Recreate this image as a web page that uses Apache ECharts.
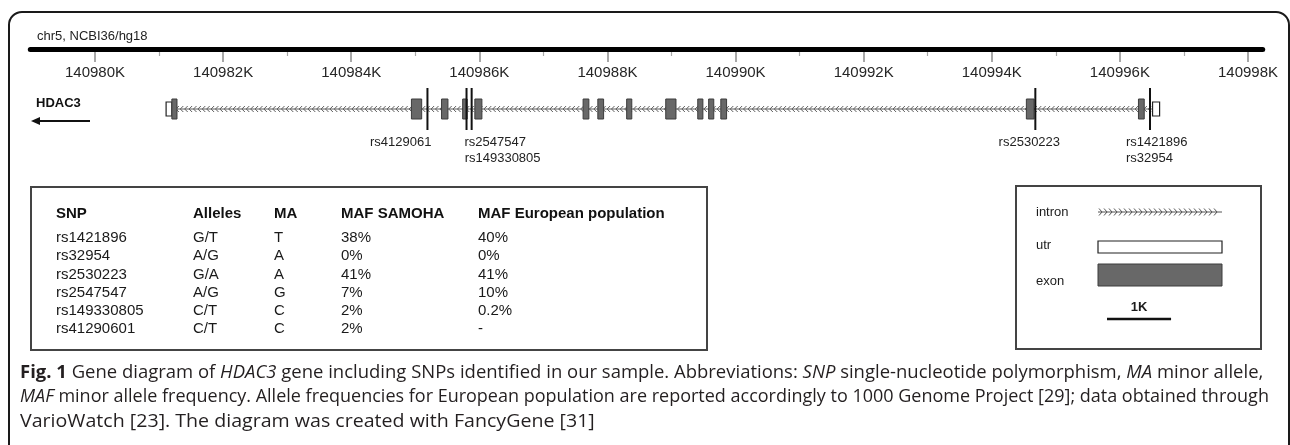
<!DOCTYPE html>
<html>
<head>
<meta charset="utf-8">
<script src="https://cdn.jsdelivr.net/npm/echarts@6/dist/echarts.min.js"></script>
<style>
html, body { margin: 0; padding: 0; background: #fff; }
#main { width: 1290px; height: 445px; }
</style>
</head>
<body>
<div id="main"></div>
<script>
var myChart = echarts.init(document.getElementById('main'));

// ruler, values in kb
var chromLabel = 'chr5, NCBI36/hg18';
var tickLabels = ['140980K', '140982K', '140984K', '140986K', '140988K', '140990K', '140992K', '140994K', '140996K', '140998K'];
var rulerExtent = [140978.99, 140998.23];

// gene model, values in kb
var geneName = 'HDAC3';
var geneSpan = [140981.11, 140996.62];
var utrs = [[140981.11, 140981.20], [140996.51, 140996.62]];
var exons = [
    [140981.20, 140981.28], [140984.94, 140985.10], [140985.41, 140985.51], [140985.74, 140985.81],
    [140985.93, 140986.04], [140987.62, 140987.71], [140987.85, 140987.94], [140988.30, 140988.38],
    [140988.91, 140989.07], [140989.41, 140989.49], [140989.58, 140989.66], [140989.77, 140989.86],
    [140994.54, 140994.66], [140996.29, 140996.38]
];
var snpNames = ['rs4129061', 'rs2547547', 'rs149330805', 'rs2530223', 'rs1421896', 'rs32954'];
var snpPos = [140985.19, 140985.80, 140985.88, 140994.68, 140996.47, 140996.47];

// table
var tableHeader = ['SNP', 'Alleles', 'MA', 'MAF SAMOHA', 'MAF European population'];
var tableSnp = ['rs1421896', 'rs32954', 'rs2530223', 'rs2547547', 'rs149330805', 'rs41290601'];
var tableAlleles = ['G/T', 'A/G', 'G/A', 'A/G', 'C/T', 'C/T'];
var tableMa = ['T', 'A', 'A', 'G', 'C', 'C'];
var tableMafSamoha = ['38%', '0%', '41%', '7%', '2%', '2%'];
var tableMafEur = ['40%', '0%', '41%', '10%', '0.2%', '-'];

// legend
var legendLabels = ['intron', 'utr', 'exon'];
var scaleBarKb = 1;
var scaleBarLabel = '1K';

var captionLines = [
    '{b|Fig. 1} Gene diagram of {i|HDAC3} gene including SNPs identified in our sample. Abbreviations: {i|SNP} single-nucleotide polymorphism, {i|MA} minor allele,',
    '{i|MAF} minor allele frequency. Allele frequencies for European population are reported accordingly to 1000 Genome Project [29]; data obtained through',
    'VarioWatch [23]. The diagram was created with FancyGene [31]'
];
// horizontal stretch of each caption line (the printed caption is justified)
var captionStretch = [1.056, 1.028, 1.12];

// label placement for the snp names (px)
var snpLabelLayout = [
    { align: 'right', dx: 4, row: 0 },
    { align: 'left', dx: -2, row: 0 },
    { align: 'left', dx: -7, row: 1 },
    { align: 'center', dx: -6, row: 0 },
    { align: 'left', dx: -24, row: 0 },
    { align: 'left', dx: -24, row: 1 }
];

var FONT = '"Liberation Sans", Arial, sans-serif';
var CAPFONT = '"Open Sans", sans-serif';
var axisMin = parseFloat(tickLabels[0]);
var axisMax = parseFloat(tickLabels[tickLabels.length - 1]);

function chevrons(x0, x1, y, dir, step, w, h) {
    var d = 'M' + x0 + ' ' + y + 'L' + x1 + ' ' + y;
    for (var x = x0 + 1; x + w <= x1 - 1; x += step) {
        var tip = dir < 0 ? x : x + w;
        var tail = dir < 0 ? x + w : x;
        d += 'M' + tail + ' ' + (y - h) + 'L' + tip + ' ' + y + 'L' + tail + ' ' + (y + h);
    }
    return d;
}

function txt(x, y, text, size, weight, align, color) {
    return {
        type: 'text', x: x, y: y, z: 10,
        style: {
            text: text, fontSize: size, fontWeight: weight || 'normal', fontFamily: FONT,
            fill: color || '#1c1c1c', align: align || 'left', verticalAlign: 'middle',
            textAlign: align || 'left', textVerticalAlign: 'middle'
        }
    };
}

var graphics = [];
// outer frame
graphics.push({ type: 'rect', z: 0, shape: { x: 9, y: 12, width: 1280, height: 520, r: 13 },
    style: { fill: 'none', stroke: '#1a1a1a', lineWidth: 2 } });
graphics.push(txt(37, 36, chromLabel, 13, 'normal', 'left', '#222'));
graphics.push(txt(36, 103, geneName, 13, 'bold', 'left', '#111'));
// strand arrow
graphics.push({ type: 'line', shape: { x1: 38, y1: 121, x2: 90, y2: 121 }, style: { stroke: '#111', lineWidth: 2 } });
graphics.push({ type: 'polygon', shape: { points: [[31, 121], [40, 117], [40, 125]] }, style: { fill: '#111' } });

// table
graphics.push({ type: 'rect', shape: { x: 31, y: 187, width: 676, height: 163 },
    style: { fill: 'none', stroke: '#444', lineWidth: 2 } });
var colX = [56, 193, 274, 341, 478];
var cols = [tableSnp, tableAlleles, tableMa, tableMafSamoha, tableMafEur];
tableHeader.forEach(function (h, c) {
    graphics.push(txt(colX[c], 214, h, 15, 'bold', 'left', '#111'));
});
cols.forEach(function (col, c) {
    col.forEach(function (v, r) {
        graphics.push(txt(colX[c], 238 + r * 18.2, v, 15, 'normal', 'left', '#1a1a1a'));
    });
});

// legend box
graphics.push({ type: 'rect', shape: { x: 1016, y: 186, width: 245, height: 163 },
    style: { fill: 'none', stroke: '#444', lineWidth: 2 } });
var legendY = [212, 245, 281];
legendLabels.forEach(function (l, i) {
    graphics.push(txt(1036, legendY[i], l, 13, 'normal', 'left', '#1c1c1c'));
});

// caption
captionLines.forEach(function (line, i) {
    graphics.push({
        type: 'text', x: 20, y: 373 + i * 24.5, z: 10, scaleX: captionStretch[i],
        style: {
            text: line, fontSize: 17.5, fontFamily: CAPFONT, fill: '#231f20',
            verticalAlign: 'middle', textVerticalAlign: 'middle',
            rich: {
                b: { fontWeight: 'bold', fontSize: 17.5, fontFamily: CAPFONT, fill: '#231f20' },
                i: { fontStyle: 'italic', fontSize: 17.5, fontFamily: CAPFONT, fill: '#231f20' }
            }
        }
    });
});

function spanItem(v) { return { value: v }; }

var option = {
    animation: false,
    backgroundColor: '#fff',
    grid: [
        { left: 95, right: 42, top: 20, height: 30 },
        { left: 95, right: 42, top: 89, height: 40 }
    ],
    xAxis: [
        {
            gridIndex: 0, type: 'value', min: axisMin, max: axisMax, interval: 2, position: 'bottom',
            axisLine: { show: false },
            axisTick: { length: 12, lineStyle: { color: '#8c8c8c', width: 1.5 } },
            minorTick: { show: true, splitNumber: 2, length: 6, lineStyle: { color: '#a8a8a8', width: 1.2 } },
            splitLine: { show: false },
            axisLabel: {
                margin: 15, fontSize: 15, color: '#262626', fontFamily: FONT,
                formatter: function (v) { return tickLabels[Math.round((v - axisMin) / 2)] || ''; }
            }
        },
        { gridIndex: 1, type: 'value', min: axisMin, max: axisMax, show: false }
    ],
    yAxis: [
        { gridIndex: 0, type: 'value', min: 0, max: 1, show: false },
        { gridIndex: 1, type: 'value', min: -1, max: 1, show: false }
    ],
    graphic: graphics,
    series: [
        {
            name: 'ruler', type: 'custom', xAxisIndex: 0, yAxisIndex: 0, clip: false,
            data: [spanItem(rulerExtent)],
            encode: { x: [0, 1] },
            renderItem: function (params, api) {
                var a = api.coord([api.value(0), 0]);
                var b = api.coord([api.value(1), 0]);
                return { type: 'line', shape: { x1: a[0], y1: a[1] - 0.5, x2: b[0], y2: b[1] - 0.5 },
                    style: { stroke: '#000', lineWidth: 5, lineCap: 'round' } };
            }
        },
        {
            name: 'intron', type: 'custom', xAxisIndex: 1, yAxisIndex: 1, clip: false,
            data: [spanItem(geneSpan)],
            encode: { x: [0, 1] },
            renderItem: function (params, api) {
                var a = api.coord([api.value(0), 0]);
                var b = api.coord([api.value(1), 0]);
                return { type: 'path', shape: { pathData: chevrons(a[0], b[0], a[1], -1, 4.4, 3, 3) },
                    style: { stroke: '#5e5e5e', lineWidth: 1, fill: null } };
            }
        },
        {
            name: 'utr', type: 'custom', xAxisIndex: 1, yAxisIndex: 1, clip: false,
            data: utrs.map(spanItem),
            encode: { x: [0, 1] },
            renderItem: function (params, api) {
                var a = api.coord([api.value(0), 0]);
                var b = api.coord([api.value(1), 0]);
                return { type: 'rect', shape: { x: a[0], y: a[1] - 7, width: b[0] - a[0], height: 14 },
                    style: { fill: '#fff', stroke: '#222', lineWidth: 1.2 } };
            }
        },
        {
            name: 'exon', type: 'custom', xAxisIndex: 1, yAxisIndex: 1, clip: false,
            data: exons.map(spanItem),
            encode: { x: [0, 1] },
            renderItem: function (params, api) {
                var a = api.coord([api.value(0), 0]);
                var b = api.coord([api.value(1), 0]);
                return { type: 'rect', shape: { x: a[0], y: a[1] - 10, width: b[0] - a[0], height: 20 },
                    style: { fill: '#686868', stroke: '#3c3c3c', lineWidth: 1 } };
            }
        },
        {
            name: 'snp', type: 'custom', xAxisIndex: 1, yAxisIndex: 1, clip: false,
            data: snpPos.map(function (p) { return { value: [p] }; }),
            encode: { x: 0 },
            renderItem: function (params, api) {
                var c = api.coord([api.value(0), 0]);
                var lay = snpLabelLayout[params.dataIndex];
                return {
                    type: 'group',
                    children: [
                        { type: 'line', shape: { x1: c[0], y1: c[1] - 21, x2: c[0], y2: c[1] + 21 },
                            style: { stroke: '#111', lineWidth: 2 } },
                        { type: 'text', x: c[0] + lay.dx, y: c[1] + 33 + lay.row * 16.6,
                            style: { text: snpNames[params.dataIndex], fontSize: 13, fontFamily: FONT, fill: '#222',
                                align: lay.align, textAlign: lay.align, verticalAlign: 'middle', textVerticalAlign: 'middle' } }
                    ]
                };
            }
        },
        {
            name: 'legend', type: 'custom', xAxisIndex: 1, yAxisIndex: 1, clip: false,
            data: [{ value: [scaleBarKb] }],
            encode: { x: 0 },
            renderItem: function (params, api) {
                var barLen = api.size([api.value(0), 0])[0];
                return {
                    type: 'group',
                    children: [
                        { type: 'path', shape: { pathData: chevrons(1098, 1222, 212, 1, 5, 3, 3.5) },
                            style: { stroke: '#555', lineWidth: 1, fill: null } },
                        { type: 'rect', shape: { x: 1098, y: 241, width: 124, height: 12 },
                            style: { fill: '#fff', stroke: '#222', lineWidth: 1.2 } },
                        { type: 'rect', shape: { x: 1098, y: 264, width: 124, height: 22 },
                            style: { fill: '#686868', stroke: '#3c3c3c', lineWidth: 1 } },
                        { type: 'line', shape: { x1: 1107, y1: 319, x2: 1107 + barLen, y2: 319 },
                            style: { stroke: '#111', lineWidth: 2.5 } },
                        { type: 'text', x: 1107 + barLen / 2, y: 307,
                            style: { text: scaleBarLabel, fontSize: 13, fontWeight: 'bold', fontFamily: FONT, fill: '#1c1c1c',
                                align: 'center', textAlign: 'center', verticalAlign: 'middle', textVerticalAlign: 'middle' } }
                    ]
                };
            }
        }
    ]
};

myChart.setOption(option);
</script>
</body>
</html>
